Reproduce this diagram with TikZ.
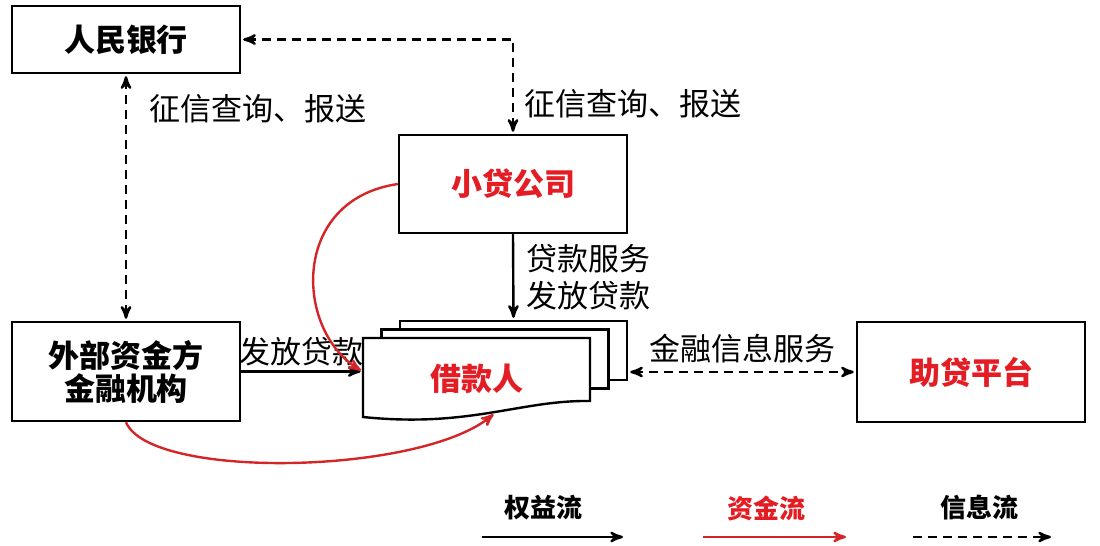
\documentclass[tikz,border=0pt]{standalone}
\usepackage{fontspec}
\setmainfont{Noto Sans CJK SC}
\usetikzlibrary{arrows}
\usetikzlibrary{positioning}
\definecolor{loanred}{RGB}{228,28,36}
\definecolor{flowred}{RGB}{212,38,40}

\begin{document}
\begin{tikzpicture}[x=0.5pt,y=-0.5pt,>=stealth',shorten >=1pt,
    main node/.style={draw,line width=1.2pt,minimum width=114pt,align=center,
      font=\fontsize{15.5}{16.5}\selectfont\bfseries},
    sheet/.style={draw,line width=1.2pt,fill=white,minimum width=113.5pt,minimum height=29.5pt,inner sep=0pt},
    flow text/.style={inner sep=1pt,align=left,font=\fontsize{15.5}{18.5}\selectfont},
    key text/.style={font=\fontsize{13}{15}\selectfont\bfseries},
    info line/.style={<->,line width=1.2pt,dash pattern=on 4.5pt off 3pt,shorten <=1pt},
    loan line/.style={->,line width=1.2pt},
    money line/.style={->,line width=1.2pt,flowred}]

  \useasboundingbox (0,0) rectangle (1100,546);

  \node[main node,minimum height=33.5pt] (rmb) at (126,39.5) {人民银行};
  \node[main node,minimum height=49pt,text=loanred] (xd) at (513,184) {小贷公司};
  \node[main node,minimum height=49.5pt] (wb) at (126,371.5) {外部资金方\\金融机构};
  \node[main node,minimum height=50pt,text=loanred] (zd) at (971,372) {助贷平台};

  % borrower: stack of sheets
  \node[sheet] (jkc) at (513.5,350.5) {};
  \node[sheet] (jkb) at (495,359) {};
  \draw[line width=1.2pt,fill=white] (363,338) -- (590,338) -- (590,401)
    .. controls (520,400) and (470,428) .. (363,417) -- cycle;
  \node[minimum width=113.5pt,minimum height=40pt,text=loanred,
    font=\fontsize{15.5}{18}\selectfont\bfseries] (jk) at (476.5,379) {借款人};
  \coordinate (jkw) at (495,413);

  \draw[info line] (rmb.east) -| node[flow text,pos=0.84,right=4pt] {征信查询、报送} (xd.north);
  \draw[info line] (rmb.south) -- node[flow text,pos=0.14,right=10pt] {征信查询、报送} (wb.north);
  \draw[loan line] (xd.south) -- node[flow text,right=5pt] {贷款服务\\发放贷款} (jkc.north);
  \draw[loan line] (wb.east) -- node[flow text,above=1pt] {发放贷款} (wb.east -| jk.west);
  \draw[info line] (zd.west -| jkc.east) -- node[flow text,above=3pt] {金融信息服务} (zd.west);

  \draw[money line] (xd.west) .. controls (290,200) and (295,330) .. (wb.east -| jk.west);
  \draw[money line] (wb.south) .. controls (150,480) and (420,475) .. (jkw);

  % key
  \node[key text] (qy) at (543,508) {权益流};
  \node[key text,text=loanred] (zj) at (766,508) {资金流};
  \node[key text] (xx) at (979,508) {信息流};
  \coordinate (qy a) at (482,537);
  \coordinate (qy b) at (625,537);
  \coordinate (zj a) at (703,537);
  \coordinate (zj b) at (848,537);
  \coordinate (xx a) at (913,537);
  \coordinate (xx b) at (1053,537);
  \draw[loan line] (qy a) -- (qy b);
  \draw[money line] (zj a) -- (zj b);
  \draw[->,line width=1.2pt,dash pattern=on 4.5pt off 3pt] (xx a) -- (xx b);
\end{tikzpicture}
\end{document}
